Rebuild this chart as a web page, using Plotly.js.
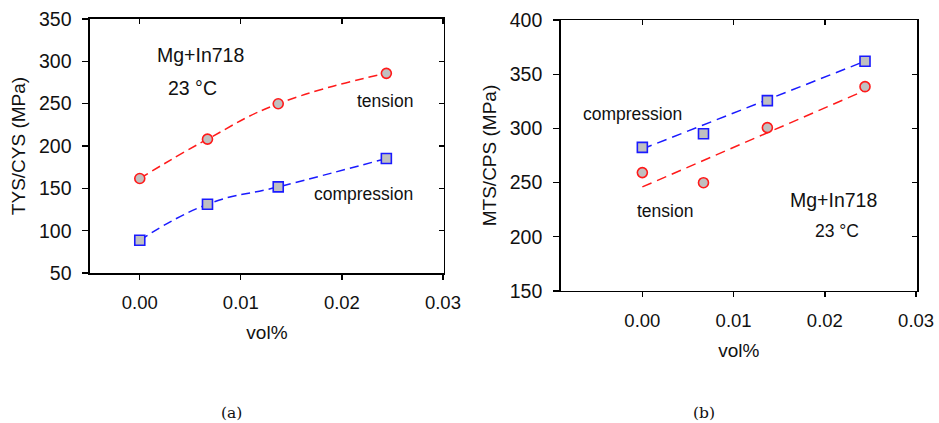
<!DOCTYPE html>
<html>
<head>
<meta charset="utf-8">
<script src="https://cdn.plot.ly/plotly-3.0.1.min.js"></script>
<style>html,body{margin:0;padding:0;background:#fff;}#chart{width:939px;height:423px;}</style>
</head>
<body>
<div id="chart"></div>
<script>
// ---- data ----
const volPct = [0, 0.0067, 0.0137, 0.0244];

// (a) yield strength
const tysTension = [161.6, 208.1, 249.9, 285.8];
const cysCompression = [88.7, 131.2, 151.7, 185.2];

// (b) maximum strength
const mtsTension = [259.2, 249.9, 300.7, 338.5];
const cpsCompression = [282.5, 295.1, 325.6, 361.9];

// linear fit lines in (b), endpoints
const fitX = [0, 0.0244];
const fitTension = [246, 335];
const fitCompression = [281, 362];

const xTickVals = [0, 0.01, 0.02, 0.03];
const yTicksA = [50, 100, 150, 200, 250, 300, 350];
const yTicksB = [150, 200, 250, 300, 350, 400];

// ---- styles ----
const FONT = 'Liberation Sans, Arial, sans-serif';
const SERIF = 'DejaVu Serif, Liberation Serif, serif';
const red = '#ff1a1a', blue = '#1a1aff', grey = '#c0c0c0';
const circ = {symbol: 'circle', size: 10, color: grey, line: {color: red, width: 1.6}};
const sq = {symbol: 'square', size: 10, color: grey, line: {color: blue, width: 1.6}};

const traces = [
  {x: volPct, y: tysTension, xaxis: 'x', yaxis: 'y', mode: 'lines+markers',
   line: {color: red, dash: '9px,5px', width: 1.5, shape: 'spline', smoothing: 1.3}, marker: circ},
  {x: volPct, y: cysCompression, xaxis: 'x', yaxis: 'y', mode: 'lines+markers',
   line: {color: blue, dash: '9px,5px', width: 1.5, shape: 'spline', smoothing: 1.3}, marker: sq},
  {x: fitX, y: fitCompression, xaxis: 'x2', yaxis: 'y2', mode: 'lines',
   line: {color: blue, dash: '10px,6px', width: 1.5}},
  {x: fitX, y: fitTension, xaxis: 'x2', yaxis: 'y2', mode: 'lines',
   line: {color: red, dash: '10px,6px', width: 1.5}},
  {x: volPct, y: cpsCompression, xaxis: 'x2', yaxis: 'y2', mode: 'markers', marker: sq},
  {x: volPct, y: mtsTension, xaxis: 'x2', yaxis: 'y2', mode: 'markers', marker: circ},
  // carriers for inward mirror ticks
  {x: [], y: [], xaxis: 'x3', yaxis: 'y3', mode: 'markers'},
  {x: [], y: [], xaxis: 'x4', yaxis: 'y4', mode: 'markers'}
];

const xTickFont = {family: FONT, size: 18.5, color: '#111'};
const yTickFont = {family: FONT, size: 19.5, color: '#111'};
const titleFont = {family: FONT, size: 19, color: '#111'};

function xAx(domain, range, anchor) {
  return {domain: domain, range: range, anchor: anchor, tickvals: xTickVals, tickformat: '.2f',
    ticks: 'outside', ticklen: 5, tickwidth: 1.3, tickcolor: '#000',
    showline: true, linecolor: '#000', linewidth: 1.5, mirror: true,
    showgrid: false, zeroline: false, tickfont: xTickFont, ticklabelstandoff: 7,
    title: {text: 'vol%', font: titleFont, standoff: 14}};
}
function yAx(domain, range, ticks, anchor, title) {
  return {domain: domain, range: range, anchor: anchor, tickvals: ticks,
    ticks: 'outside', ticklen: 6, tickwidth: 1.3, tickcolor: '#000',
    showline: true, linecolor: '#000', linewidth: 1.5, mirror: true,
    showgrid: false, zeroline: false, tickfont: yTickFont, ticklabelstandoff: 7,
    title: {text: title, font: titleFont, standoff: 8}};
}
function mirrorX(over, anchor) {
  return {overlaying: over, matches: over, anchor: anchor, side: 'top', tickvals: xTickVals,
    ticks: 'inside', ticklen: 5, tickwidth: 1.3, tickcolor: '#000', showticklabels: false,
    showline: false, showgrid: false, zeroline: false};
}
function mirrorY(over, anchor, ticks) {
  return {overlaying: over, matches: over, anchor: anchor, side: 'right', tickvals: ticks,
    ticks: 'inside', ticklen: 5, tickwidth: 1.3, tickcolor: '#000', showticklabels: false,
    showline: false, showgrid: false, zeroline: false};
}

const annFont = (s) => ({family: FONT, size: s, color: '#111'});
const ann = (x, y, text, size) => ({xref: 'paper', yref: 'paper', x: x / 939, y: 1 - y / 423,
  text: text, showarrow: false, font: annFont(size), xanchor: 'center', yanchor: 'middle'});

const layout = {
  width: 939, height: 423, margin: {l: 0, r: 0, t: 0, b: 0},
  paper_bgcolor: '#fff', plot_bgcolor: '#fff', showlegend: false,
  xaxis: xAx([0.0958, 0.4728], [-0.00493, 0.0301], 'y'),
  yaxis: yAx([0.3546, 0.9551], [50, 350], yTicksA, 'x', 'TYS/CYS (MPa)'),
  xaxis2: xAx([0.5971, 0.9766], [-0.00895, 0.0301], 'y2'),
  yaxis2: yAx([0.3121, 0.9527], [150, 400], yTicksB, 'x2', 'MTS/CPS (MPa)'),
  xaxis3: mirrorX('x', 'y3'),
  yaxis3: mirrorY('y', 'x3', yTicksA),
  xaxis4: mirrorX('x2', 'y4'),
  yaxis4: mirrorY('y2', 'x4', yTicksB),
  annotations: [
    ann(200, 55, 'Mg+In718', 19.5),
    ann(192, 88, '23 °C', 19.5),
    ann(385, 101, 'tension', 17.5),
    ann(363, 194, 'compression', 17.5),
    ann(632, 114, 'compression', 17.5),
    ann(665, 211, 'tension', 17.5),
    ann(833, 200, 'Mg+In718', 19.5),
    ann(837, 231, '23 °C', 17.5),
    {xref: 'paper', yref: 'paper', x: 231 / 939, y: 1 - 413 / 423, text: '(a)', showarrow: false,
     xanchor: 'center', yanchor: 'middle', font: {family: SERIF, size: 15.5, color: '#111'}},
    {xref: 'paper', yref: 'paper', x: 704 / 939, y: 1 - 413 / 423, text: '(b)', showarrow: false,
     xanchor: 'center', yanchor: 'middle', font: {family: SERIF, size: 15.5, color: '#111'}}
  ]
};

Plotly.newPlot('chart', traces, layout, {staticPlot: true, displayModeBar: false});
</script>
</body>
</html>
